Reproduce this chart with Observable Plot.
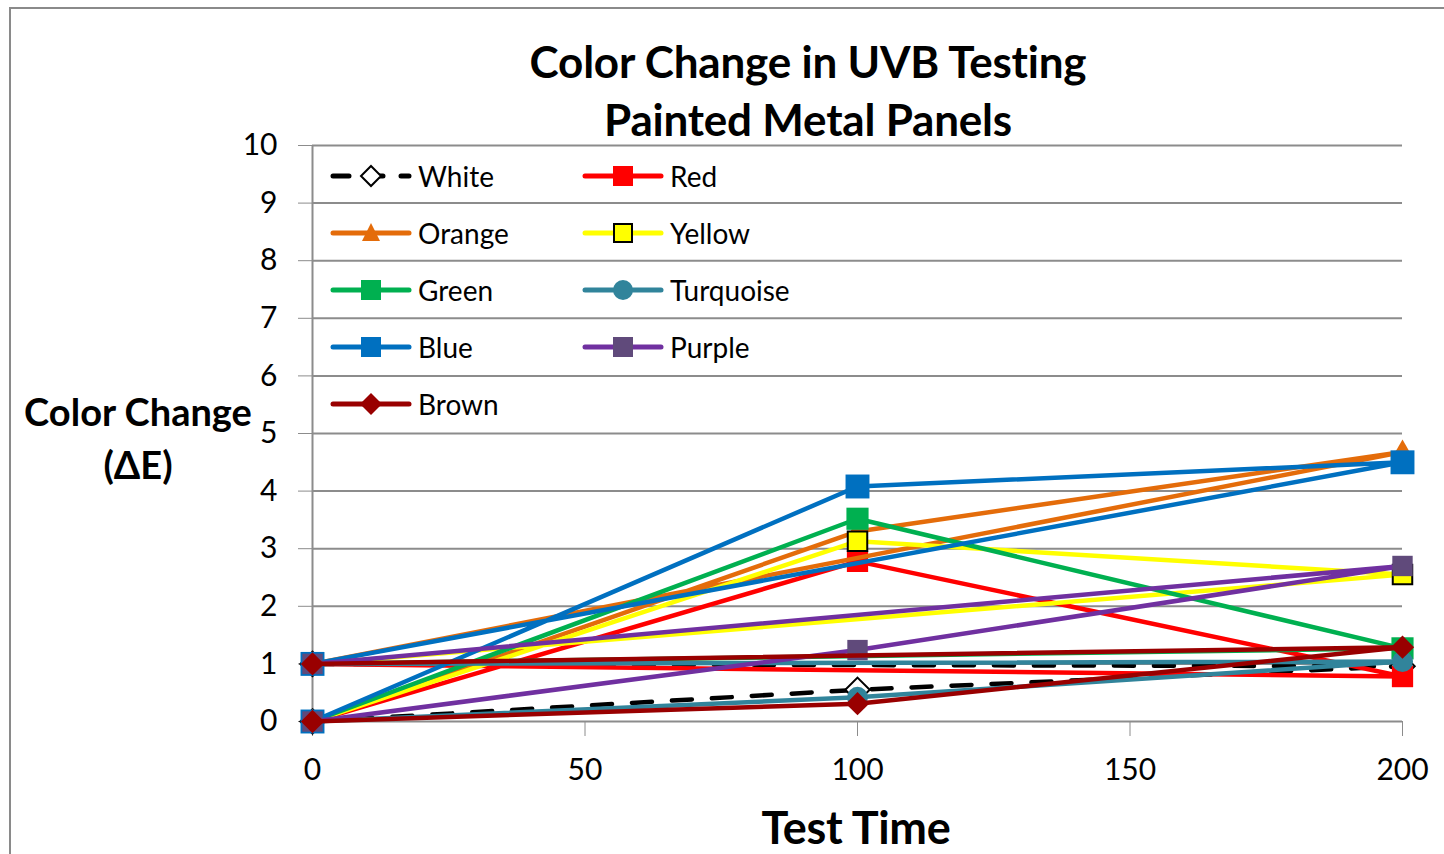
<!DOCTYPE html>
<html><head><meta charset="utf-8">
<script src="https://cdn.jsdelivr.net/npm/d3@7"></script>
<script src="https://cdn.jsdelivr.net/npm/@observablehq/plot@0.6"></script>
<style>
body{margin:0;background:#fff;font-family:Lato, "Open Sans", sans-serif;}
#wrap{position:relative;width:1444px;height:854px;overflow:hidden;background:#fff}
#frame{position:absolute;left:9px;top:7px;width:1450px;height:860px;border:2px solid #8a8a8a;box-sizing:border-box;pointer-events:none}
#chart{position:absolute;left:0;top:0}
.t{position:absolute;white-space:nowrap;color:#000;transform:translate(-50%,-50%);line-height:1}
.title{font-weight:700;font-size:44px;letter-spacing:-0.2px}
.ylab{font-weight:700;font-size:38px;letter-spacing:0px}
.xlab{font-weight:700;font-size:45px;letter-spacing:-0.3px}
.leg{position:absolute;display:flex;align-items:center;transform:translateY(-50%);font-size:28px;color:#000}
.leg svg{display:block;margin-right:6px}
</style>
</head><body>
<div id="wrap">
  <div id="chart"></div>
  <div class="t title" style="left:808px;top:61px">Color Change in UVB Testing</div>
  <div class="t title" style="left:808px;top:119px">Painted Metal Panels</div>
  <div class="t ylab" style="left:138px;top:411px">Color Change</div>
  <div class="t ylab" style="left:138px;top:464px">(ΔE)</div>
  <div class="t xlab" style="left:856px;top:827px">Test Time</div>
  <div id="legend"></div>
  <div id="frame"></div>
</div>
<script>
// Data (x: test time; each series runs 0 → 100 → 200 and back to a second 0-hour reading)
const times = [0, 100, 200, 0];
const seriesNames = ["White","Red","Orange","Yellow","Green","Turquoise","Blue","Purple","Brown"];
const white     = [0, 0.55, 0.96, 1];
const red       = [0, 2.78, 0.78, 1];
const orange    = [0, 3.3, 4.68, 1];
const yellow    = [0, 3.13, 2.55, 1];
const green     = [0, 3.52, 1.27, 1];
const turquoise = [0, 0.42, 1.04, 1];
const blue      = [0, 4.08, 4.5, 1];
const purple    = [0, 1.24, 2.7, 1];
const brown     = [0, 0.31, 1.29, 1];
const values = [white, red, orange, yellow, green, turquoise, blue, purple, brown];
const yTicks = [0,1,2,3,4,5,6,7,8,9,10];
const xTicks = [0,50,100,150,200];

const styles = {
  White:     {line:"#000000", dash:"20,20", symbol:"diamond2", fill:"#ffffff", mstroke:"#000000", r:11},
  Red:       {line:"#ff0000", symbol:"square", fill:"#ff0000", r:12},
  Orange:    {line:"#e46c0a", symbol:"triangle", fill:"#e46c0a", r:8},
  Yellow:    {line:"#ffff00", symbol:"square", fill:"#ffff00", mstroke:"#000000", r:11},
  Green:     {line:"#00b050", symbol:"square", fill:"#00b050", r:12.5},
  Turquoise: {line:"#31849b", symbol:"circle", fill:"#31849b", r:10.5},
  Blue:      {line:"#0070c0", symbol:"square", fill:"#0070c0", r:13.5},
  Purple:    {line:"#7030a0", symbol:"square", fill:"#604a7b", r:11.5},
  Brown:     {line:"#990000", symbol:"diamond2", fill:"#990000", r:10.5}
};

const rows = [];
seriesNames.forEach((s,i) => times.forEach((t,j) => rows.push({series:s, time:t, value:values[i][j], order:j})));

const marks = [
  Plot.gridY(yTicks.slice(1), {stroke:"#8c8c8c", strokeOpacity:1, strokeWidth:2}),
  Plot.ruleY([0], {stroke:"#8c8c8c", strokeWidth:2}),
  Plot.ruleX([0], {stroke:"#8c8c8c", strokeWidth:2}),
  Plot.axisY({ticks:yTicks, tickSize:14, tickPadding:21, fontSize:30, stroke:"#8c8c8c", fill:"#000", label:null, tickFormat:d=>String(d)}),
  Plot.axisX({ticks:xTicks, tickSize:15, tickPadding:22, fontSize:30, stroke:"#8c8c8c", fill:"#000", label:null, tickFormat:d=>String(d)})
];
seriesNames.forEach(s => {
  const st = styles[s];
  const d = rows.filter(r => r.series === s);
  marks.push(Plot.line(d, {x:"time", y:"value", stroke:st.line, strokeWidth:4.5, strokeLinejoin:"round", strokeLinecap:"round", strokeDasharray:st.dash || null, sort:null}));
  marks.push(Plot.dot(d, {x:"time", y:"value", symbol:()=>st.symbol, r:st.r, fill:st.fill, stroke:st.mstroke || "none", strokeWidth:st.mstroke ? 2 : 0}));
});

const chart = Plot.plot({
  width:1444, height:854,
  marginLeft:312, marginRight:42, marginTop:145, marginBottom:133,
  x:{domain:[0,200]},
  y:{domain:[0,10]},
  style:{fontFamily:"Lato, 'Open Sans', sans-serif", background:"transparent", overflow:"visible"},
  marks
});
document.getElementById("chart").appendChild(chart);

// Legend (HTML overlay, transparent so gridlines show through)
const legendPos = [[330,176],[582,176],[330,233],[582,233],[330,290],[582,290],[330,347],[582,347],[330,404]];
const legend = document.getElementById("legend");
seriesNames.forEach((s,i) => {
  const st = styles[s];
  const [lx,ly] = legendPos[i];
  const div = document.createElement("div");
  div.className = "leg";
  div.style.left = lx + "px";
  div.style.top = ly + "px";
  const w = 82, h = 30, cx = 41, cy = 15;
  let marker = "";
  const sq = k => `<rect x="${cx-k}" y="${cy-k}" width="${2*k}" height="${2*k}" fill="${st.fill}" stroke="${st.mstroke||'none'}" stroke-width="2"/>`;
  if (st.symbol === "square") marker = sq(s==="Yellow"?9:10);
  else if (st.symbol === "circle") marker = `<circle cx="${cx}" cy="${cy}" r="10" fill="${st.fill}"/>`;
  else if (st.symbol === "triangle") marker = `<polygon points="${cx},${cy-10} ${cx+9},${cy+8} ${cx-9},${cy+8}" fill="${st.fill}"/>`;
  else if (st.symbol === "diamond2") {
    const k = s==="White"?10:11;
    marker = `<polygon points="${cx},${cy-k} ${cx+k},${cy} ${cx},${cy+k} ${cx-k},${cy}" fill="${st.fill}" stroke="${st.mstroke||'none'}" stroke-width="2"/>`;
  }
  div.innerHTML = `<svg width="${w}" height="${h}"><line x1="3" y1="${cy}" x2="${w-3}" y2="${cy}" stroke="${st.line}" stroke-width="5" stroke-linecap="round" ${st.dash?'stroke-dasharray="16,18"':''}/>${marker}</svg><span>${s}</span>`;
  legend.appendChild(div);
});
</script>
</body></html>
